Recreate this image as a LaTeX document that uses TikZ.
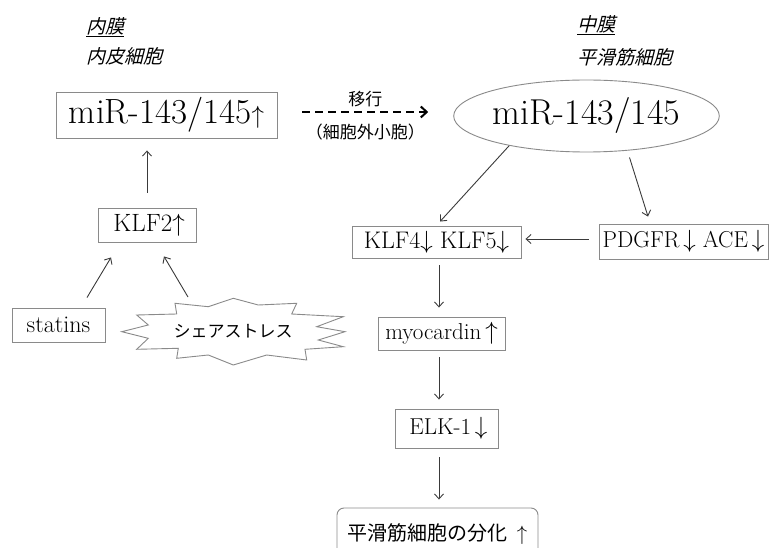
\documentclass[tikz,border=0pt]{standalone}
\usepackage{fontspec}
\usepackage{tikz}
\usetikzlibrary{arrows.meta,calc,shapes.geometric}
\newfontfamily\jp{Noto Sans CJK JP}
\newfontfamily\jpit[FakeSlant=0.25]{Noto Sans CJK JP}
\definecolor{boxgray}{HTML}{8A8A8A}
\definecolor{linegray}{HTML}{3A3A3A}
\tikzset{
  box/.style={draw=boxgray, line width=0.9pt, inner sep=0pt, font=\fontsize{23}{27}\selectfont},
  arr/.style={draw=linegray, line width=0.9pt, -{Straight Barb[length=5pt,width=9pt]}},
  layer/.style={anchor=west, inner sep=0pt, font=\fontsize{19}{22}\selectfont\jpit},
  jptext/.style={font=\fontsize{17}{20}\selectfont\jp},
}

\begin{document}
\begin{tikzpicture}[x=1pt,y=-1pt]
      \useasboundingbox (0,0) rectangle (772,548);

      % 見出し
      \node[layer] (intima) at (86,27) {\underline{内膜}};
      \node[layer] (endo) at (86,56) {内皮細胞};
      \node[layer] (media) at (577,25) {\underline{中膜}};
      \node[layer] (smc) at (577,57) {平滑筋細胞};

      % 内皮細胞側
      \node[box, minimum width=221pt, minimum height=46pt, font=\fontsize{35}{40}\selectfont] (mirA) at (166.5,115) {miR-143/145$\uparrow$};
      \node[box, minimum width=98pt, minimum height=34pt, font=\fontsize{25}{29}\selectfont] (klf2) at (147,225) {\,KLF2$\uparrow$};
      \node[box, minimum width=93pt, minimum height=34pt, font=\fontsize{24}{28}\selectfont] (statins) at (58.5,325) {statins};
      \draw[draw=boxgray, line width=0.9pt] (121.7,331.7) -- (148.3,325) -- (136.7,315) -- (176.7,314) -- (175,303.3)
        -- (208.3,306.7) -- (233.3,298.3) -- (258.3,305) -- (296.7,303.3) -- (291.7,314) -- (343.3,316.7)
        -- (316.7,326.7) -- (345,331.7) -- (318.3,340) -- (343.3,346.7) -- (305,349.3) -- (306.7,360)
        -- (266.7,355) -- (233.3,365) -- (208.3,355) -- (176.7,358.3) -- (178.3,348.3) -- (136.7,349.3)
        -- (148.3,338.3) -- cycle;
      \node[jptext] (stress) at (233,331) {シェアストレス};

      % 平滑筋細胞側
      \node[draw=boxgray, line width=0.9pt, ellipse, inner sep=0pt, minimum width=227pt, minimum height=72pt, font=\fontsize{36}{42}\selectfont] (mirB) at (586.5,116) {miR-143/145};
      \node[box, minimum width=169pt, minimum height=32pt, font=\fontsize{24}{28}\selectfont] (klf45) at (436.5,242) {KLF4$\downarrow$ KLF5$\downarrow$};
      \node[box, minimum width=169pt, minimum height=35pt] (pdgfr) at (683.5,241.5) {PDGFR\,$\downarrow$ ACE\,$\downarrow$};
      \node[box, minimum width=127pt, minimum height=33pt] (myo) at (441.5,333.5) {myocardin\,$\uparrow$};
      \node[box, minimum width=103pt, minimum height=39pt] (elk) at (446.5,428.5) {\,ELK-1\,$\downarrow$};
      \node[box, rounded corners=7pt, minimum width=201pt, minimum height=52pt, font=\fontsize{20}{24}\selectfont\jp] (diff) at (437.5,534) {平滑筋細胞の分化\ \ $\uparrow$};

      % 矢印
      \draw[arr, shorten <=15pt, shorten >=12pt] (klf2.north) -- (klf2.north |- mirA.south);
      \draw[arr] ($(statins.north)+(28.5,-10)$) -- ($(klf2.south)+(-36,15)$);
      \draw[arr] ($(stress)+(-45,-34)$) -- ($(klf2.south)+(17,14)$);
      \draw[line width=2pt, dash pattern=on 8pt off 5pt, -{Straight Barb[length=6pt,width=11pt,line width=2pt]},
            shorten <=25pt, shorten >=25pt] ([yshift=3pt]mirA.east) -- ([yshift=3pt]mirA.east -| mirB.west)
        node[midway, yshift=13pt, jptext] {移行}
        node[midway, yshift=-20pt, jptext] {（細胞外小胞）};
      \draw[arr] (mirB.201) -- ($(klf45.north)+(3.5,-4)$);
      \draw[arr] ($(mirB.south)+(43,5)$) -- ($(pdgfr.north)+(-35.5,-7)$);
      \draw[arr, shorten <=10pt, shorten >=4pt] ([yshift=2.5pt]pdgfr.west) -- ([yshift=2.5pt]pdgfr.west -| klf45.east);
      \draw[arr, shorten <=7pt, shorten >=9pt] ([xshift=2.5pt]klf45.south) -- ([xshift=2.5pt]klf45.south |- myo.north);
      \draw[arr, shorten <=7pt, shorten >=9pt] ([xshift=-2.5pt]myo.south) -- ([xshift=-2.5pt]myo.south |- elk.north);
      \draw[arr, shorten <=9pt, shorten >=8pt] ([xshift=-7.5pt]elk.south) -- ([xshift=-7.5pt]elk.south |- diff.north);
\end{tikzpicture}
\end{document}
